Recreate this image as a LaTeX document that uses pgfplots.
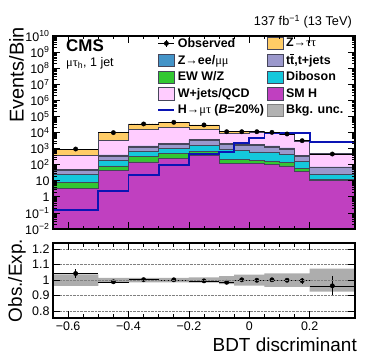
\documentclass[border=0pt]{standalone}
\usepackage{fontspec}
\setmainfont{Liberation Sans}
\newfontfamily\grk{Liberation Serif}
\usepackage{pgfplots}
\usepackage{pgfplotstable}
\pgfplotsset{compat=1.18}
\usepgfplotslibrary{fillbetween}
\usetikzlibrary{patterns}

\newcommand\g[1]{{\grk\mdseries #1}}

\definecolor{cZtt}{RGB}{255,204,102}
\definecolor{cZll}{RGB}{68,148,200}
\definecolor{cEW}{RGB}{50,200,50}
\definecolor{cWj}{RGB}{255,204,255}
\definecolor{cTT}{RGB}{155,152,204}
\definecolor{cDB}{RGB}{20,200,220}
\definecolor{cSMH}{RGB}{192,64,192}
\definecolor{cSig}{RGB}{10,20,180}
\definecolor{cEdge}{RGB}{70,70,90}

% cumulative stack tops (bottom -> top), bin left edges, last row = right edge
\pgfplotstableread{
x      smh   ew    db    tt    zll   wj     ztt    sig
-0.65  3.4   8     25    42    51    360    900    0.16
-0.5   46    85    195   340   400   3100   9900   2.4
-0.4   150   310   650   1250  1450  16500  34000  24
-0.3   245   480   1060  1900  2200  20000  43000  95
-0.2   380   680   1550  3300  3800  15000  29500  450
-0.1   115   220   850   1800  2050  9000   11400  640
-0.05  120   210   800   1700  1950  9300   11200  2150
0      115   190   620   1500  1750  9600   11200  4400
0.05   105   170   560   1250  1450  8900   10200  9800
0.1    85    140   460   950   1100  7200   8100   9800
0.15   37    56    165   330   380   2800   3100   9800
0.2    10.5  12.5  25    65    72    420    480    2450
0.35   10.5  12.5  25    65    72    420    480    2450
}\stack

% background uncertainty: absolute (upper) and relative (ratio)
\pgfplotstableread{
x      lo     hi     rlo    rhi
-0.65  867    933    0.963  1.037
-0.5   9750   10050  0.985  1.015
-0.4   33490  34510  0.985  1.015
-0.3   42355  43645  0.985  1.015
-0.2   29000  30000  0.983  1.017
-0.1   11100  11700  0.974  1.026
-0.05  10810  11590  0.965  1.035
0      10810  11590  0.965  1.035
0.05   9760   10640  0.957  1.043
0.1    7750   8450   0.957  1.043
0.15   2965   3235   0.957  1.043
0.2    444    516    0.925  1.075
0.35   444    516    0.925  1.075
}\unc

\pgfplotstableread{
x       y      ex     r      ey
-0.575  940    0.075  1.043  0.030
-0.45   9800   0.05   0.989  0.010
-0.35   34000  0.05   1.003  0.006
-0.25   43000  0.05   1.002  0.005
-0.15   29500  0.05   0.995  0.006
-0.075  11200  0.025  0.986  0.010
-0.025  11200  0.025  1.002  0.010
0.025   11200  0.025  0.999  0.010
0.075   10200  0.025  1.002  0.010
0.125   8100   0.025  0.999  0.011
0.175   3100   0.025  0.996  0.018
0.275   460    0.075  0.963  0.065
}\obs

\pgfplotsset{
  boxleg/.style={legend image code/.code={\draw[##1] (0bp,-6.3bp) rectangle (16bp,6.3bp);}},
  obsleg/.style={legend image code/.code={%
    \draw[black,line width=0.7bp] (0bp,0bp)--(16bp,0bp) (8bp,-3.5bp)--(8bp,3.5bp);
    \fill[black] (8bp,0bp) circle (2.2bp);}},
  lineleg/.style={legend image code/.code={\draw[##1] (0bp,0bp)--(16bp,0bp);}},
  cmsaxis/.style={
    scale only axis, width=302bp, axis on top,
    xmin=-0.65, xmax=0.35,
    xtick={-0.6,-0.4,-0.2,0,0.2}, minor x tick num=3,
    tick align=inside, major tick length=7bp, minor tick length=3.5bp,
    axis line style={line width=1.1bp},
    every tick/.style={black, line width=0.8bp},
    tick label style={font=\fontsize{12.5}{15}\selectfont},
  },
  edge/.style={const plot, cEdge, line width=0.6bp, forget plot},
}

\begin{document}
\begin{tikzpicture}
\begin{axis}[cmsaxis, name=main, height=193bp,
  ymode=log, ymin=1e-2, ymax=1e10,
  xticklabels={},
  ytick={1e-2,1e-1,1,10,1e2,1e3,1e4,1e5,1e6,1e7,1e8,1e9,1e10},
  yticklabels={10\textsuperscript{−2},10\textsuperscript{−1},1,10,10\textsuperscript{2},10\textsuperscript{3},10\textsuperscript{4},10\textsuperscript{5},10\textsuperscript{6},10\textsuperscript{7},10\textsuperscript{8},10\textsuperscript{9},10\textsuperscript{10}},
  minor ytick={2e-2,3e-2,4e-2,5e-2,6e-2,7e-2,8e-2,9e-2,
    2e-1,3e-1,4e-1,5e-1,6e-1,7e-1,8e-1,9e-1,
    2,3,4,5,6,7,8,9,
    2e1,3e1,4e1,5e1,6e1,7e1,8e1,9e1,
    2e2,3e2,4e2,5e2,6e2,7e2,8e2,9e2,
    2e3,3e3,4e3,5e3,6e3,7e3,8e3,9e3,
    2e4,3e4,4e4,5e4,6e4,7e4,8e4,9e4,
    2e5,3e5,4e5,5e5,6e5,7e5,8e5,9e5,
    2e6,3e6,4e6,5e6,6e6,7e6,8e6,9e6,
    2e7,3e7,4e7,5e7,6e7,7e7,8e7,9e7,
    2e8,3e8,4e8,5e8,6e8,7e8,8e8,9e8,
    2e9,3e9,4e9,5e9,6e9,7e9,8e9,9e9},
  legend columns=2, legend cell align=left,
  legend style={at={(axis description cs:0.345,0.997)}, anchor=north west,
    draw=none, fill=none, inner sep=0pt,
    font=\bfseries\fontsize{12.5}{15}\selectfont,
    nodes={inner sep=1bp},
    row sep=3.3bp,
    /tikz/every odd column/.append style={column sep=1.5bp},
    /tikz/every even column/.append style={column sep=2bp}},
]
\addplot[draw=none, name path=base, forget plot] coordinates {(-0.65,1e-3) (0.35,1e-3)};

\addplot[const plot, draw=none, name path=Lztt, forget plot] table[x=x,y=ztt]{\stack};
\addplot[fill=cZtt, draw=none, forget plot] fill between[of=Lztt and base];
\addplot[const plot, draw=none, name path=Lwj, forget plot] table[x=x,y=wj]{\stack};
\addplot[fill=cWj, draw=none, forget plot] fill between[of=Lwj and base];
\addplot[const plot, draw=none, name path=Lzll, forget plot] table[x=x,y=zll]{\stack};
\addplot[fill=cZll, draw=none, forget plot] fill between[of=Lzll and base];
\addplot[const plot, draw=none, name path=Ltt, forget plot] table[x=x,y=tt]{\stack};
\addplot[fill=cTT, draw=none, forget plot] fill between[of=Ltt and base];
\addplot[const plot, draw=none, name path=Ldb, forget plot] table[x=x,y=db]{\stack};
\addplot[fill=cDB, draw=none, forget plot] fill between[of=Ldb and base];
\addplot[const plot, draw=none, name path=Lew, forget plot] table[x=x,y=ew]{\stack};
\addplot[fill=cEW, draw=none, forget plot] fill between[of=Lew and base];
\addplot[const plot, draw=none, name path=Lsmh, forget plot] table[x=x,y=smh]{\stack};
\addplot[fill=cSMH, draw=none, forget plot] fill between[of=Lsmh and base];

\addplot[edge] table[x=x,y=ztt]{\stack};
\addplot[edge] table[x=x,y=wj]{\stack};
\addplot[edge] table[x=x,y=zll]{\stack};
\addplot[edge] table[x=x,y=tt]{\stack};
\addplot[edge] table[x=x,y=db]{\stack};
\addplot[edge] table[x=x,y=ew]{\stack};
\addplot[edge] table[x=x,y=smh]{\stack};

\addplot[const plot, draw=none, name path=Uhi, forget plot] table[x=x,y=hi]{\unc};
\addplot[const plot, draw=none, name path=Ulo, forget plot] table[x=x,y=lo]{\unc};
\addplot[pattern=crosshatch dots, pattern color=black!55, draw=none, forget plot] fill between[of=Uhi and Ulo];

\addplot[const plot, cSig, line width=1.8bp, forget plot] table[x=x,y=sig]{\stack};

\addplot[only marks, mark=*, mark size=2.2bp, black, forget plot,
  error bars/.cd, x dir=both, x explicit, error mark=none,
  error bar style={line width=0.6bp, black}]
  table[x=x, y=y, x error=ex]{\obs};

\addlegendimage{obsleg}
\addlegendentry{Observed}
\addlegendimage{boxleg, fill=cZtt, draw=cEdge, line width=0.6bp}
\addlegendentry{Z\g{→ττ}}
\addlegendimage{boxleg, fill=cZll, draw=cEdge, line width=0.6bp}
\addlegendentry{Z\g{→}ee/\g{μμ}}
\addlegendimage{boxleg, fill=cTT, draw=cEdge, line width=0.6bp}
\addlegendentry{t\rlap{\hspace{0.1bp}\rule[9.6bp]{4bp}{0.9bp}}t,t+jets}
\addlegendimage{boxleg, fill=cEW, draw=cEdge, line width=0.6bp}
\addlegendentry{EW W/Z}
\addlegendimage{boxleg, fill=cDB, draw=cEdge, line width=0.6bp}
\addlegendentry{Diboson}
\addlegendimage{boxleg, fill=cWj, draw=cEdge, line width=0.6bp}
\addlegendentry{W+jets/QCD}
\addlegendimage{boxleg, fill=cSMH, draw=cEdge, line width=0.6bp}
\addlegendentry{SM H}
\addlegendimage{lineleg, cSig, line width=2bp}
\addlegendentry{H\g{→μτ} (\textit{B}=20\%)}
\addlegendimage{boxleg, fill=black!30, draw=black!50, line width=0.6bp}
\addlegendentry{Bkg. unc.}
\end{axis}

\coordinate (rtop) at ([yshift=-14bp]main.south west);

\begin{axis}[cmsaxis, name=ratio, height=75bp,
  at={(rtop)}, anchor=north west,
  ymin=0.755, ymax=1.24,
  xticklabels={−0.6,−0.4,−0.2,0,0.2},
  ytick={0.8,0.9,1,1.1,1.2}, yticklabels={0.8,0.9,1,1.1,1.2},
  ymajorgrids, grid style={densely dotted, black!50, line width=0.6bp},
]
\addplot[const plot, draw=none, name path=Rhi, forget plot] table[x=x,y=rhi]{\unc};
\addplot[const plot, draw=none, name path=Rlo, forget plot] table[x=x,y=rlo]{\unc};
\addplot[fill=black!32, draw=none, forget plot] fill between[of=Rhi and Rlo];
\addplot[only marks, mark=*, mark size=2.2bp, black,
  error bars/.cd, x dir=both, x explicit, y dir=both, y explicit, error mark=none,
  error bar style={line width=0.6bp, black}]
  table[x=x, y=r, x error=ex, y error=ey]{\obs};
\end{axis}

\node[anchor=base east, inner sep=0pt, font=\fontsize{12.8}{15}\selectfont] at ([xshift=-3bp,yshift=10.5bp]main.north east) {137 fb\textsuperscript{−1} (13 TeV)};
\node[anchor=base west, inner sep=0pt, font=\bfseries\fontsize{17}{20}\selectfont] at ([xshift=13bp,yshift=-16bp]main.north west) {CMS};
\node[anchor=base west, inner sep=0pt, font=\fontsize{12.5}{15}\selectfont] at ([xshift=13bp,yshift=-30.5bp]main.north west) {\g{μτ}\textsubscript{h}, 1 jet};
\node[rotate=90, anchor=south east, inner sep=0pt, font=\fontsize{20}{24}\selectfont] at ([xshift=-29bp,yshift=9bp]main.north west) {Events/Bin};
\node[rotate=90, anchor=south, inner sep=0pt, font=\fontsize{19}{22}\selectfont] at ([xshift=-27bp]ratio.west) {Obs./Exp.};
\node[anchor=base east, inner sep=0pt, font=\fontsize{19}{22}\selectfont] at ([xshift=2bp,yshift=-34bp]ratio.south east) {BDT discriminant};
\path ([xshift=-53bp,yshift=36bp]main.north west) rectangle ([xshift=321bp,yshift=-327bp]main.north west);
\end{tikzpicture}
\end{document}
